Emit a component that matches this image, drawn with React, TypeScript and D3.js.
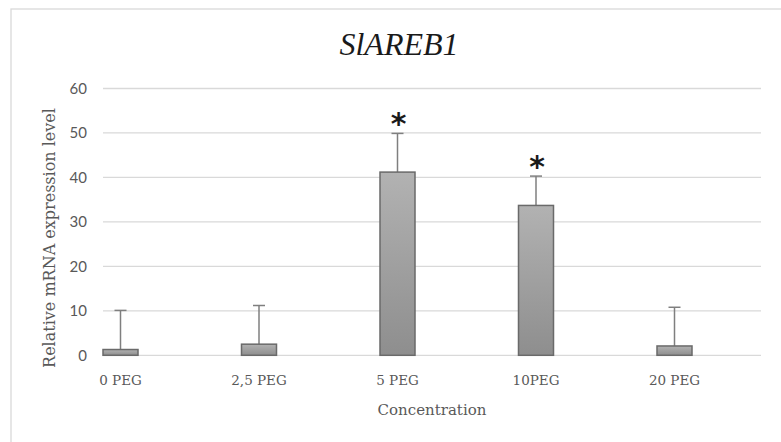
import React from "react";
import * as d3 from "d3";

const categories = ["0 PEG", "2,5 PEG", "5 PEG", "10PEG", "20 PEG"];
const values = [1.3, 2.5, 41.2, 33.7, 2.1];
const errors = [8.8, 8.7, 8.7, 6.6, 8.7];
const significant = [false, false, true, true, false];
const yTicks = [0, 10, 20, 30, 40, 50, 60];
const title = "SlAREB1";
const xTitle = "Concentration";
const yTitle = "Relative mRNA expression level";

const W = 781;
const H = 442;

export default function App() {
  const x = d3.scalePoint<string>().domain(categories).range([120.5, 674.5]);
  const y = d3.scaleLinear().domain([0, 60]).range([355.3, 88.5]);
  const barW = 35;
  const gridX0 = 103;
  const gridX1 = 761;
  return (
    <svg
      width={W}
      height={H}
      style={{ position: "absolute", left: 0, top: 0, background: "#fff" }}
    >
      <defs>
        <linearGradient id="barGrad" x1="0" y1="0" x2="0" y2="1">
          <stop offset="0%" stopColor="#b2b2b2" />
          <stop offset="100%" stopColor="#8e8e8e" />
        </linearGradient>
      </defs>
      <rect x={11} y={9} width={800} height={460} fill="#fff" stroke="#d9d9d9" strokeWidth={1.3} />
      <text
        x={399}
        y={55}
        textAnchor="middle"
        fontFamily="'Liberation Serif', serif"
        fontStyle="italic"
        fontSize={32}
        fill="#1a1a1a"
      >
        {title}
      </text>
      {yTicks.map((t) => (
        <g key={t}>
          <line x1={gridX0} x2={gridX1} y1={y(t)} y2={y(t)} stroke="#d9d9d9" strokeWidth={1.3} />
          <text
            x={87}
            y={y(t)}
            dy="0.35em"
            textAnchor="end"
            fontFamily="Lato, sans-serif"
            fontSize={15}
            fill="#595959"
          >
            {t}
          </text>
        </g>
      ))}
      {categories.map((c, i) => {
        const cx = x(c)!;
        const top = y(values[i]);
        const errTop = y(values[i] + errors[i]);
        return (
          <g key={c}>
            <line x1={cx} x2={cx} y1={top} y2={errTop} stroke="#7f7f7f" strokeWidth={1.5} />
            <line x1={cx - 6} x2={cx + 6} y1={errTop} y2={errTop} stroke="#7f7f7f" strokeWidth={1.5} />
            <rect
              x={cx - barW / 2}
              y={top}
              width={barW}
              height={y(0) - top}
              fill="url(#barGrad)"
              stroke="#6a6a6a"
              strokeWidth={1.5}
            />
            {significant[i] && (
              <text
                x={cx + 1}
                y={errTop + 1}
                textAnchor="middle"
                fontFamily="'DejaVu Sans', sans-serif"
                fontWeight="bold"
                fontSize={30}
                fill="#1a1a1a"
              >
                *
              </text>
            )}
            <text
              x={cx}
              y={385}
              textAnchor="middle"
              fontFamily="'DejaVu Serif', serif"
              fontSize={13.5}
              fill="#595959"
            >
              {c}
            </text>
          </g>
        );
      })}
      <text
        x={432}
        y={415}
        textAnchor="middle"
        fontFamily="'DejaVu Serif', serif"
        fontSize={15}
        fill="#595959"
      >
        {xTitle}
      </text>
      <text
        transform={`translate(55,${238}) rotate(-90)`}
        textAnchor="middle"
        fontFamily="'DejaVu Serif', serif"
        fontSize={16}
        fill="#595959"
      >
        {yTitle}
      </text>
    </svg>
  );
}
